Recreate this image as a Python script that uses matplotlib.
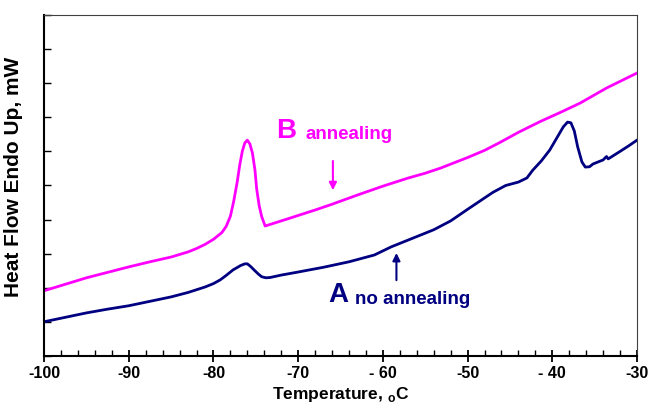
import numpy as np
import matplotlib
matplotlib.use("Agg")
import matplotlib.pyplot as plt
from matplotlib.ticker import MultipleLocator

plt.rcParams['font.family'] = ['Liberation Sans', 'DejaVu Sans']
plt.rcParams['font.weight'] = 'bold'
plt.rcParams['mathtext.fontset'] = 'custom'
plt.rcParams['mathtext.rm'] = 'Liberation Sans:bold'
plt.rcParams['mathtext.bf'] = 'Liberation Sans:bold'

# curve B (annealing)
b_temp = [-100, -97.5, -95, -92.5, -90, -87.5, -85, -83, -82, -81, -80, -79, -78.5, -78,
          -77.6, -77.2, -76.9, -76.6, -76.3, -76.0, -75.7, -75.4, -75.1, -74.9, -74.6,
          -74.3, -73.9, -72, -70, -68, -66, -63, -60, -57, -55, -53.2, -50, -48,
          -46.2, -44, -41.4, -39, -36.7, -33.6, -30]
b_flow = [1.91, 2.10, 2.29, 2.45, 2.61, 2.76, 2.90, 3.05, 3.15, 3.27, 3.42, 3.62, 3.80,
          4.10, 4.55, 5.10, 5.60, 6.00, 6.25, 6.33, 6.22, 5.95, 5.45, 4.90, 4.40,
          4.08, 3.81, 3.96, 4.12, 4.28, 4.45, 4.72, 4.98, 5.22, 5.36, 5.51, 5.82, 6.03,
          6.26, 6.56, 6.88, 7.15, 7.42, 7.86, 8.30]

# curve A (no annealing)
a_temp = [-100, -97.5, -95, -92.5, -90, -87.5, -85, -83, -82, -81, -80, -79.2, -78.5,
          -77.7, -76.8, -76.3, -76, -75.6, -75.2, -74.7, -74.3, -73.8, -73.3, -72,
          -70, -67, -64, -61, -59, -56.5, -54, -52, -50, -48.5, -47, -45.5, -44,
          -43, -42.3, -41.3, -40.3, -39.5, -38.7, -38.2, -37.8, -37.4, -37, -36.5,
          -36.1, -35.6, -35.2, -34.5, -34, -33.6, -33.4, -32, -31, -30]
a_flow = [1.00, 1.13, 1.26, 1.37, 1.47, 1.60, 1.73, 1.86, 1.94, 2.02, 2.12, 2.23, 2.36,
          2.52, 2.65, 2.70, 2.70, 2.62, 2.52, 2.40, 2.32, 2.29, 2.30, 2.37, 2.46,
          2.60, 2.76, 2.96, 3.20, 3.45, 3.70, 3.96, 4.30, 4.55, 4.80, 5.00, 5.10,
          5.22, 5.45, 5.72, 6.04, 6.38, 6.72, 6.86, 6.84, 6.60, 6.13, 5.69, 5.54,
          5.55, 5.63, 5.70, 5.75, 5.85, 5.78, 6.00, 6.16, 6.33]

x_ticks = [-100, -90, -80, -70, -60, -50, -40, -30]
x_labels = ['-100', '-90', '-80', '-70', '- 60', '-50', '- 40', '-30']

fig = plt.figure(figsize=(6.48, 4.09), dpi=100)
ax = fig.add_axes([0.068, 0.13, 0.915, 0.833])

ax.plot(b_temp, b_flow, color='#FF00FF', lw=2.0, solid_joinstyle='round')
ax.plot(a_temp, a_flow, color='#000080', lw=2.0, solid_joinstyle='round')

ax.set_xlim(-100, -30)
ax.set_ylim(0, 10)
ax.set_xticks(x_ticks)
ax.set_xticklabels(x_labels, fontsize=11.5, fontweight='bold')
ax.xaxis.set_minor_locator(MultipleLocator(2))
ax.yaxis.set_major_locator(MultipleLocator(1))
ax.set_yticklabels([])
ax.tick_params(axis='x', which='major', direction='inout', length=8, width=1.3, pad=3)
ax.tick_params(axis='x', which='minor', direction='in', length=4, width=1.0)
ax.tick_params(axis='y', which='major', direction='in', length=5, width=1.0)

ax.spines['left'].set_linewidth(1.5)
ax.spines['bottom'].set_linewidth(1.5)
for s in ['top', 'right']:
    ax.spines[s].set_linewidth(0.8)
    ax.spines[s].set_color('#404040')

ax.set_xlabel(r'Temperature, $_\mathregular{o}$C', fontsize=12.5, fontweight='bold', labelpad=3)
ax.set_ylabel('Heat Flow Endo Up, mW', fontsize=15, fontweight='bold')
ax.yaxis.set_label_coords(-0.035, 0.525)

# labels and arrows
ax.text(-71.4, 6.6, 'B', color='#FF00FF', fontsize=20, fontweight='bold', ha='center', va='center')
ax.text(-69.1, 6.5, 'annealing', color='#FF00FF', fontsize=13.5, fontweight='bold', ha='left', va='center')
ax.annotate('', xy=(-65.9, 4.78), xytext=(-65.9, 5.8),
            arrowprops=dict(arrowstyle='-|>', color='#FF00FF', lw=1.5, mutation_scale=11))
ax.text(-65.3, 1.79, 'A', color='#000080', fontsize=20, fontweight='bold', ha='center', va='center')
ax.text(-63.3, 1.64, 'no annealing', color='#000080', fontsize=13.5, fontweight='bold', ha='left', va='center')
ax.annotate('', xy=(-58.4, 3.1), xytext=(-58.4, 2.14),
            arrowprops=dict(arrowstyle='-|>', color='#000080', lw=1.5, mutation_scale=11))

fig.savefig('out.png', dpi=100)
